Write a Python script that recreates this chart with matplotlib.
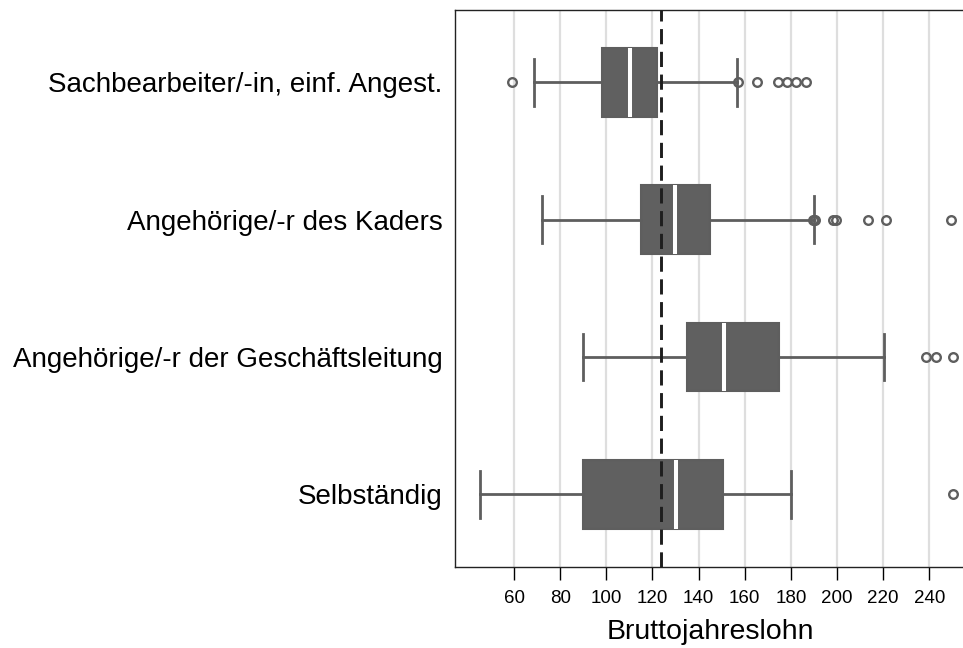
import matplotlib.pyplot as plt

plt.rcParams['font.family'] = ['Liberation Sans', 'DejaVu Sans']

# categories, top to bottom
categories = ['Sachbearbeiter/-in, einf. Angest.',
              'Angehörige/-r des Kaders',
              'Angehörige/-r der Geschäftsleitung',
              'Selbständig']

# box statistics (Bruttojahreslohn, in 1000 CHF)
whisker_low = [68.7, 72.3, 90.0, 45.1]
q1 = [98.0, 114.9, 134.9, 89.8]
median = [110.1, 129.8, 151.2, 130.1]
q3 = [122.0, 145.1, 175.0, 150.6]
whisker_high = [156.5, 190.2, 220.2, 180.2]
fliers = [
    [59.3, 157.0, 165.2, 174.6, 178.2, 182.1, 186.6],
    [189.8, 190.2, 190.5, 198.1, 199.4, 213.3, 221.2, 249.3],
    [238.7, 242.8, 250.2],
    [250.2],
]
overall_median = 123.6

xticks = [60, 80, 100, 120, 140, 160, 180, 200, 220, 240]

stats = []
for i, name in enumerate(categories):
    stats.append({'label': name, 'whislo': whisker_low[i], 'q1': q1[i],
                  'med': median[i], 'q3': q3[i], 'whishi': whisker_high[i],
                  'fliers': fliers[i]})

box_col = '#606060'
line_col = '#5e5e5e'

fig = plt.figure(figsize=(9.63, 6.48), dpi=100)
ax = fig.add_axes([455 / 963, 81 / 648, 511.2 / 963, 557 / 648])

for x in xticks:
    ax.axvline(x, color='#dedede', lw=1.6, zorder=0)

ax.bxp(stats, positions=range(len(categories)), widths=0.5, capwidths=0.34,
       orientation='horizontal', patch_artist=True,
       boxprops=dict(facecolor=box_col, edgecolor=line_col, linewidth=1.5),
       whiskerprops=dict(color=line_col, linewidth=2.0),
       capprops=dict(color=line_col, linewidth=2.0),
       medianprops=dict(color='white', linewidth=2.9),
       flierprops=dict(marker='o', markersize=6.2, markerfacecolor='none',
                       markeredgecolor=line_col, markeredgewidth=1.7),
       zorder=2)

ax.axvline(overall_median, color='#1e1e1e', lw=2.1, dashes=(5.2, 2.6), zorder=3)

ax.set_xlim(34.4, 256)
ax.set_ylim(3.53, -0.527)
ax.set_xticks(xticks)
ax.set_xticklabels([str(t) for t in xticks], fontsize=13.5)
ax.set_yticks(range(len(categories)))
ax.set_yticklabels(categories, fontsize=20)
ax.tick_params(axis='y', length=0, pad=9)
ax.tick_params(axis='x', length=9.5, width=1, pad=7, color='black')
ax.set_xlabel('Bruttojahreslohn', fontsize=20.5, labelpad=9)

for s in ax.spines.values():
    s.set_color('#222222')
    s.set_linewidth(1.0)

fig.savefig('out.png', dpi=100)
